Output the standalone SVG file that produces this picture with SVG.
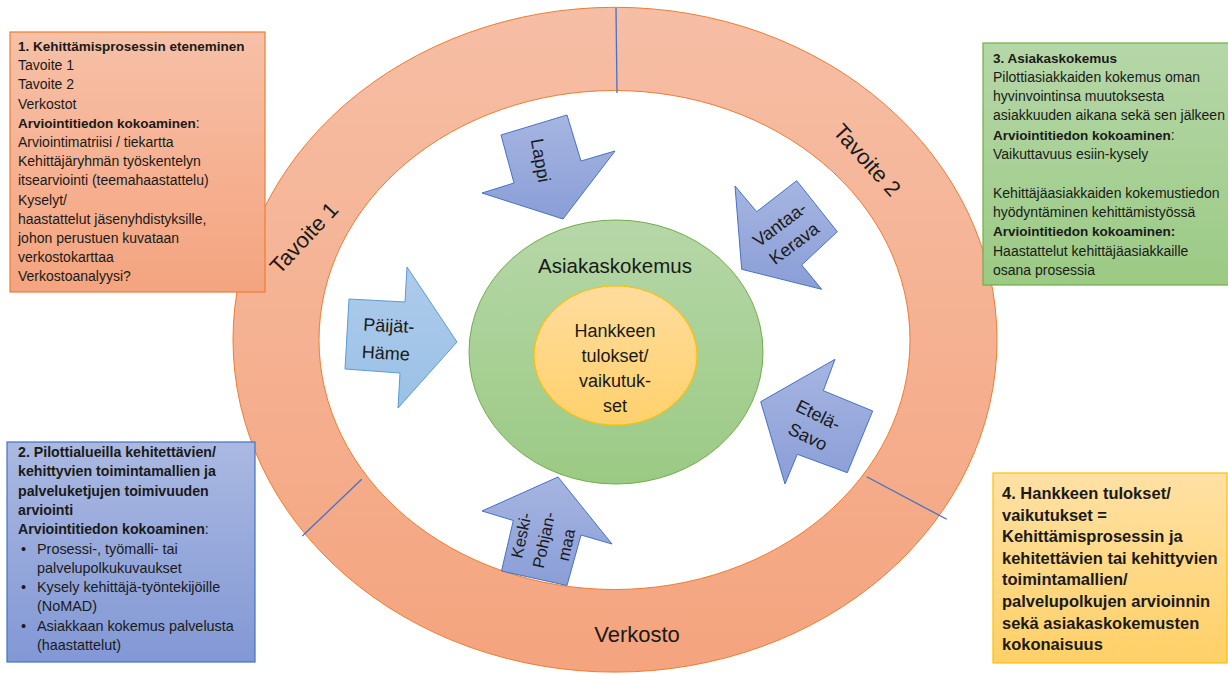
<svg xmlns="http://www.w3.org/2000/svg" width="1228" height="674" viewBox="0 0 1228 674">
<defs>
<linearGradient id="gRing" x1="0" y1="0" x2="0" y2="1"><stop offset="0" stop-color="#F6BEA5"/><stop offset="1" stop-color="#F4A47E"/></linearGradient>
<linearGradient id="gOrange" x1="0" y1="0" x2="0" y2="1"><stop offset="0" stop-color="#F7C0A7"/><stop offset="1" stop-color="#F4A47F"/></linearGradient>
<linearGradient id="gGreen" x1="0" y1="0" x2="0" y2="1"><stop offset="0" stop-color="#B6D7A8"/><stop offset="1" stop-color="#9BCA84"/></linearGradient>
<linearGradient id="gBlue" x1="0" y1="0" x2="0" y2="1"><stop offset="0" stop-color="#AAB9E1"/><stop offset="1" stop-color="#8298D5"/></linearGradient>
<linearGradient id="gArrow" x1="0" y1="0" x2="0" y2="1"><stop offset="0" stop-color="#A6B5E1"/><stop offset="1" stop-color="#8A9ED7"/></linearGradient>
<linearGradient id="gLight" x1="0" y1="0" x2="0" y2="1"><stop offset="0" stop-color="#AECBEB"/><stop offset="1" stop-color="#9AC1E6"/></linearGradient>
<linearGradient id="gYellow" x1="0" y1="0" x2="0" y2="1"><stop offset="0" stop-color="#FFE1A4"/><stop offset="1" stop-color="#FFD067"/></linearGradient>
<linearGradient id="gCore" x1="0" y1="0" x2="0" y2="1"><stop offset="0" stop-color="#FFDC9E"/><stop offset="1" stop-color="#FFD16C"/></linearGradient>
<style>
text{font-family:"Liberation Sans",Arial,sans-serif;fill:#1a1a1a}
.box{font-size:14px}
.b{font-weight:bold;font-size:13.5px}
.box2{font-size:14.4px}
.b2{font-weight:bold;font-size:14.2px}
.b4{font-weight:bold;font-size:16.5px}
.lbl{font-size:18px}
.ring{font-size:22px}
.arrow{fill:url(#gArrow);stroke:#4472C4;stroke-width:1}
.div{stroke:#4472C4;stroke-width:1.3;fill:none}
</style>
</defs>
<rect width="1228" height="674" fill="#fff"/>

<g id="ring">
<path d="M233,339.7 A382,332.4 0 1,0 997,339.7 A382,332.4 0 1,0 233,339.7 Z M319,340 A295.5,249.5 0 1,0 910,340 A295.5,249.5 0 1,0 319,340 Z" fill="url(#gRing)" fill-rule="evenodd" stroke="#ED7D31" stroke-width="1"/>
<text class="ring" transform="translate(304,238) rotate(-47)" text-anchor="middle" dominant-baseline="central">Tavoite 1</text>
<text class="ring" transform="translate(867,160) rotate(48)" text-anchor="middle" dominant-baseline="central">Tavoite 2</text>
<text class="ring" x="637" y="642" text-anchor="middle">Verkosto</text>
</g>

<g id="connectors">
<line class="div" x1="616" y1="8" x2="617" y2="93"/>
<line class="div" x1="361.7" y1="479.3" x2="302.3" y2="536"/>
<line class="div" x1="866.7" y1="476.7" x2="946.7" y2="519.3"/>
</g>

<g id="asiakaskokemus">
<ellipse cx="616" cy="352" rx="147" ry="132" fill="url(#gGreen)" stroke="#70AD47" stroke-width="1"/>
<text x="615" y="273" text-anchor="middle" style="font-size:20.5px">Asiakaskokemus</text>
</g>

<g id="tulokset">
<ellipse cx="615.5" cy="355.5" rx="81.5" ry="69.5" fill="url(#gCore)" stroke="#FFC000" stroke-width="1.2"/>
<text text-anchor="middle" style="font-size:18px"><tspan x="615" y="336.5">Hankkeen</tspan><tspan x="615" y="361.5">tulokset/</tspan><tspan x="615" y="386.5">vaikutuk-</tspan><tspan x="615" y="411.5">set</tspan></text>
</g>

<g id="paijat-hame">
<polygon points="349,299 405,302 407,267 457,342 398,408 400,373 345,369" fill="url(#gLight)" stroke="#5B9BD5" stroke-width="1"/>
<text class="lbl" transform="rotate(3,363,330)"><tspan x="363" y="330.5">Päijät-</tspan><tspan x="363" y="358">Häme</tspan></text>
</g>

<g id="lappi">
<polygon class="arrow" points="501,135 567,115 581,161 615,151 563,219 482,193 514,183"/>
<text class="lbl" transform="translate(540.5,160.5) rotate(80)" text-anchor="middle" dominant-baseline="central">Lappi</text>
</g>

<g id="vantaa-kerava">
<polygon class="arrow" points="741.7,269.3 821.7,289.3 801.7,265 837.3,231.7 796.7,180.7 756.7,211.7 735,186"/>
<text class="lbl" transform="translate(787,234) rotate(-37)" text-anchor="middle" dominant-baseline="central"><tspan x="0" y="-12">Vantaa-</tspan><tspan x="0" y="12">Kerava</tspan></text>
</g>

<g id="etela-savo">
<polygon class="arrow" points="760.7,401.7 835,359.3 823.3,390.7 872.7,411 847.3,472.7 797.3,454.3 785,484"/>
<text class="lbl" transform="translate(813,426) rotate(26)" text-anchor="middle" dominant-baseline="central"><tspan x="0" y="-12">Etelä-</tspan><tspan x="0" y="12">Savo</tspan></text>
</g>

<g id="keski-pohjanmaa">
<polygon class="arrow" points="558,477 612,544 581,535 567,585.5 501.5,571 513.3,520.5 482,511"/>
<text transform="translate(543.5,540) rotate(-78)" text-anchor="middle" dominant-baseline="central" style="font-size:16.5px"><tspan x="0" y="-23">Keski-</tspan><tspan x="0" y="0">Pohjan-</tspan><tspan x="0" y="23">maa</tspan></text>
</g>

<g id="box1">
<rect x="10" y="32" width="255" height="260" fill="url(#gOrange)" stroke="#ED7D31" stroke-width="1.2"/>
<text class="box">
<tspan x="18" y="51" class="b">1. Kehittämisprosessin eteneminen</tspan>
<tspan x="18" y="70.2">Tavoite 1</tspan>
<tspan x="18" y="89.4">Tavoite 2</tspan>
<tspan x="18" y="108.6">Verkostot</tspan>
<tspan x="18" y="127.8" class="b">Arviointitiedon kokoaminen</tspan><tspan>:</tspan>
<tspan x="18" y="147">Arviointimatriisi / tiekartta</tspan>
<tspan x="18" y="166.2">Kehittäjäryhmän työskentelyn</tspan>
<tspan x="18" y="185.4">itsearviointi (teemahaastattelu)</tspan>
<tspan x="18" y="204.6">Kyselyt/</tspan>
<tspan x="18" y="223.8">haastattelut jäsenyhdistyksille,</tspan>
<tspan x="18" y="243">johon perustuen kuvataan</tspan>
<tspan x="18" y="262.2">verkostokarttaa</tspan>
<tspan x="18" y="281.4">Verkostoanalyysi?</tspan>
</text>
</g>

<g id="box3">
<rect x="983" y="43" width="260" height="242" fill="url(#gGreen)" stroke="#70AD47" stroke-width="1.2"/>
<text class="box">
<tspan x="993" y="62.5" class="b">3. Asiakaskokemus</tspan>
<tspan x="993" y="81.8">Pilottiasiakkaiden kokemus oman</tspan>
<tspan x="993" y="101.1">hyvinvointinsa muutoksesta</tspan>
<tspan x="993" y="120.4">asiakkuuden aikana sekä sen jälkeen</tspan>
<tspan x="993" y="139.7" class="b">Arviointitiedon kokoaminen</tspan><tspan>:</tspan>
<tspan x="993" y="159">Vaikuttavuus esiin-kysely</tspan>
<tspan x="993" y="197.6">Kehittäjäasiakkaiden kokemustiedon</tspan>
<tspan x="993" y="216.9">hyödyntäminen kehittämistyössä</tspan>
<tspan x="993" y="236.2" class="b">Arviointitiedon kokoaminen:</tspan>
<tspan x="993" y="255.5">Haastattelut kehittäjäasiakkaille</tspan>
<tspan x="993" y="274.8">osana prosessia</tspan>
</text>
</g>

<g id="box2">
<rect x="7" y="442" width="248" height="220" fill="url(#gBlue)" stroke="#4472C4" stroke-width="1.2"/>
<text class="box2">
<tspan x="18" y="457" class="b2">2. Pilottialueilla kehitettävien/</tspan>
<tspan x="18" y="476.3" class="b2">kehittyvien toimintamallien ja</tspan>
<tspan x="18" y="495.6" class="b2">palveluketjujen toimivuuden</tspan>
<tspan x="18" y="514.9" class="b2">arviointi</tspan>
<tspan x="18" y="534.2" class="b2">Arviointitiedon kokoaminen</tspan><tspan>:</tspan>
<tspan x="21" y="553.5">•</tspan><tspan x="37" y="553.5">Prosessi-, työmalli- tai</tspan>
<tspan x="37" y="572.8">palvelupolkukuvaukset</tspan>
<tspan x="21" y="592.1">•</tspan><tspan x="37" y="592.1">Kysely kehittäjä-työntekijöille</tspan>
<tspan x="37" y="611.4">(NoMAD)</tspan>
<tspan x="21" y="630.7">•</tspan><tspan x="37" y="630.7">Asiakkaan kokemus palvelusta</tspan>
<tspan x="37" y="650">(haastattelut)</tspan>
</text>
</g>

<g id="box4">
<rect x="993" y="473" width="234" height="190" fill="url(#gYellow)" stroke="#FFC000" stroke-width="1.2"/>
<text class="b4">
<tspan x="1002" y="499">4. Hankkeen tulokset/</tspan>
<tspan x="1002" y="520.6">vaikutukset =</tspan>
<tspan x="1002" y="542.2">Kehittämisprosessin ja</tspan>
<tspan x="1002" y="563.8">kehitettävien tai kehittyvien</tspan>
<tspan x="1002" y="585.4">toimintamallien/</tspan>
<tspan x="1002" y="607">palvelupolkujen arvioinnin</tspan>
<tspan x="1002" y="628.6">sekä asiakaskokemusten</tspan>
<tspan x="1002" y="650.2">kokonaisuus</tspan>
</text>
</g>
</svg>
